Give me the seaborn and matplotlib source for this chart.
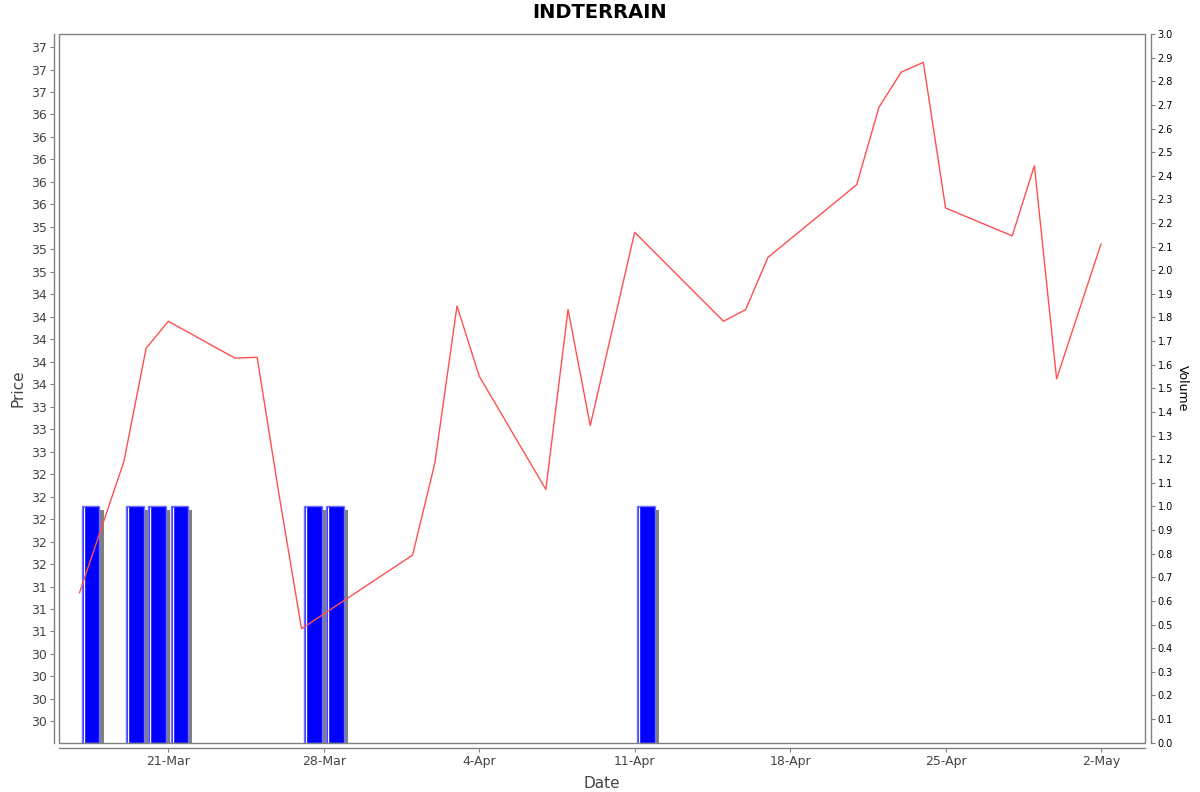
import matplotlib
matplotlib.use('Agg')
import matplotlib.pyplot as plt
import matplotlib.dates as mdates
import matplotlib.patheffects as pe
from matplotlib.patches import Rectangle
from matplotlib.ticker import FixedLocator, FuncFormatter
import numpy as np
import pandas as pd
import seaborn as sns

# price series
price_dates = ['2025-03-17', '2025-03-19', '2025-03-20', '2025-03-21', '2025-03-24',
               '2025-03-25', '2025-03-26', '2025-03-27', '2025-04-01', '2025-04-02',
               '2025-04-03', '2025-04-04', '2025-04-07', '2025-04-08', '2025-04-09',
               '2025-04-11', '2025-04-15', '2025-04-16', '2025-04-17', '2025-04-21',
               '2025-04-22', '2025-04-23', '2025-04-24', '2025-04-25', '2025-04-28',
               '2025-04-29', '2025-04-30', '2025-05-02']
prices = [31.18, 32.64, 33.90, 34.20, 33.79,
          33.80, 32.25, 30.78, 31.60, 32.62,
          34.37, 33.59, 32.33, 34.33, 33.04,
          35.19, 34.20, 34.33, 34.91, 35.72,
          36.58, 36.97, 37.08, 35.46, 35.15,
          35.93, 33.56, 35.06]

# volume series
volume_dates = ['2025-03-17', '2025-03-19', '2025-03-20', '2025-03-21',
                '2025-03-27', '2025-03-28', '2025-04-11']
volumes = [1.0, 1.0, 1.0, 1.0, 1.0, 1.0, 1.0]

price_ticks = np.arange(29.75, 37.26, 0.25)
volume_ticks = np.arange(0, 3.01, 0.1)
date_ticks = ['2025-03-21', '2025-03-28', '2025-04-04', '2025-04-11',
              '2025-04-18', '2025-04-25', '2025-05-02']

df = pd.DataFrame({'Date': pd.to_datetime(price_dates), 'Price': prices})

sns.set_style('white')
plt.rcParams['font.family'] = ['DejaVu Sans']

fig = plt.figure(figsize=(12, 7.92), dpi=100)
ax = fig.add_axes([0.0494, 0.06225, 0.90475, 0.8948])
ax2 = ax.twinx()
ax.set_zorder(ax2.get_zorder() + 1)
ax.patch.set_visible(False)

# volume bars with a drop shadow
vd = mdates.date2num(pd.to_datetime(volume_dates))
bars = ax2.bar(vd + 0.5, volumes, width=0.8, color='#0000ff',
               edgecolor='#7070ff', linewidth=1)
for b in bars:
    b.set_path_effects([pe.SimplePatchShadow(offset=(2.9, -2.9),
                                             shadow_rgbFace='#808080', alpha=1.0),
                        pe.Normal()])
ax2.vlines(vd + 0.19, 0, np.array(volumes) - 0.004, color='white', linewidth=1.0)

# price line
sns.lineplot(data=df, x='Date', y='Price', ax=ax, color='#ff5050', linewidth=1.0)

ax.set_ylim(29.513, 37.395)
ax2.set_ylim(0, 3.0)
ax.set_xlim(mdates.date2num(pd.Timestamp('2025-03-16')) + 0.09,
            mdates.date2num(pd.Timestamp('2025-05-04')) - 0.02)

# left axis: rounded labels
ax.yaxis.set_major_locator(FixedLocator(price_ticks))
ax.yaxis.set_major_formatter(FuncFormatter(lambda v, p: f"{round(v):d}"))
ax2.yaxis.set_major_locator(FixedLocator(volume_ticks))
ax2.yaxis.set_major_formatter(FuncFormatter(lambda v, p: f"{v:.1f}"))
ax.xaxis.set_major_locator(FixedLocator(mdates.date2num(pd.to_datetime(date_ticks))))
ax.xaxis.set_major_formatter(FuncFormatter(
    lambda v, p: f"{mdates.num2date(v).day}-{mdates.num2date(v):%b}"))

gray = '#808080'
for a in (ax, ax2):
    for s in a.spines.values():
        s.set_visible(False)
ax.spines['left'].set_visible(True)
ax.spines['left'].set_position(('outward', 4))
ax.spines['bottom'].set_visible(True)
ax.spines['bottom'].set_position(('outward', 4))
ax2.spines['right'].set_visible(True)
ax2.spines['right'].set_position(('outward', 4))
for s in (ax.spines['left'], ax.spines['bottom'], ax2.spines['right']):
    s.set_color(gray)
    s.set_linewidth(1.0)

ax.add_patch(Rectangle((0, 0), 1, 1, transform=ax.transAxes, fill=False,
                       edgecolor=gray, linewidth=1.0, clip_on=False, zorder=10))

ax.tick_params(axis='y', which='major', left=True, length=3, width=0.8, color=gray,
               labelsize=9, labelcolor='#444444', pad=2)
ax.tick_params(axis='x', which='major', bottom=True, length=3, width=0.8, color=gray,
               labelsize=9, labelcolor='#444444', pad=2)
ax2.tick_params(axis='y', which='major', right=True, length=3, width=0.8, color=gray,
                labelsize=7, labelcolor='black', pad=2)

ax.set_xlabel('Date', fontsize=11, color='#444444')
ax.set_ylabel('Price', fontsize=11, color='#444444')
ax2.set_ylabel('Volume', fontsize=9, color='black', rotation=270, va='center')
ax.xaxis.set_label_coords(0.5, -0.047)
ax.yaxis.set_label_coords(-0.031, 0.5)
ax2.yaxis.set_label_coords(1.0345, 0.5)

fig.text(0.5, 1 - 13 / 792, 'INDTERRAIN', ha='center', va='center',
         fontsize=14, fontweight='bold', color='black')

fig.savefig('out.png', dpi=100)
